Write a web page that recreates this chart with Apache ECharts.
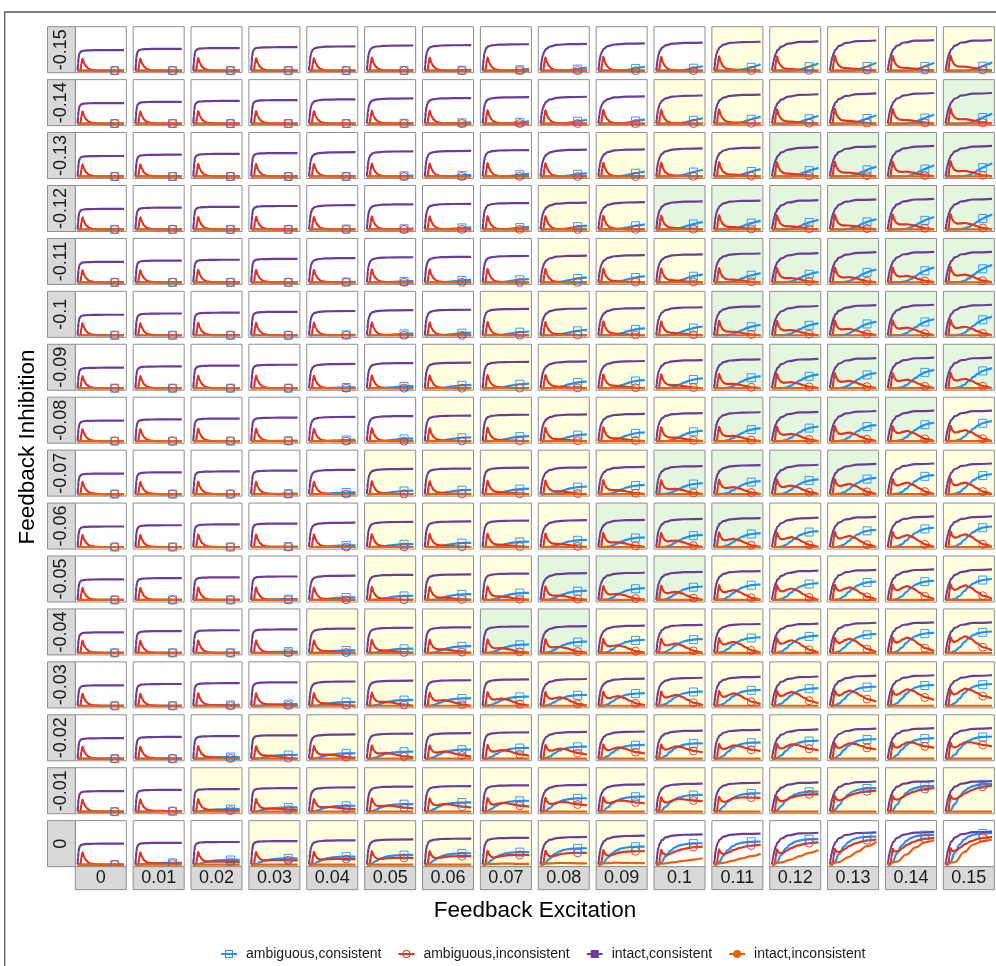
<!DOCTYPE html>
<html>
<head>
<meta charset="utf-8">
<script src="https://cdn.jsdelivr.net/npm/echarts@6.0.0/dist/echarts.min.js"></script>
<style>
  html, body { margin: 0; padding: 0; background: #ffffff; }
  #chart { width: 996px; height: 966px; }
</style>
</head>
<body>
<div id="chart"></div>
<script>
// ---- facet labels ----
const EXCITATION_LABELS = ['0', '0.01', '0.02', '0.03', '0.04', '0.05', '0.06', '0.07',
  '0.08', '0.09', '0.1', '0.11', '0.12', '0.13', '0.14', '0.15'];
const INHIBITION_LABELS = ['-0.15', '-0.14', '-0.13', '-0.12', '-0.11', '-0.1', '-0.09', '-0.08',
  '-0.07', '-0.06', '-0.05', '-0.04', '-0.03', '-0.02', '-0.01', '0'];
const SERIES_NAMES = ['ambiguous,consistent', 'ambiguous,inconsistent', 'intact,consistent', 'intact,inconsistent'];

// ---- panel background class (W white, Y yellow, G green); rows top (-0.15) to bottom (0) ----
const PANEL_CLASS = [
  'WWWWWWWWWWWYYYYY',
  'WWWWWWWWWWYYYYYG',
  'WWWWWWWWWYYYGGGG',
  'WWWWWWWWYYGGGGGG',
  'WWWWWWWWYYYGGGGG',
  'WWWWWWWYYYYGGGGG',
  'WWWWWWYYYYYGGGGG',
  'WWWWWWYYYYYGGGGY',
  'WWWWWYYYYYGGGGYY',
  'WWWWWYYYYGGGYYYY',
  'WWWWWYYYGGGYYYYY',
  'WWWWYYYGGYYYYYYY',
  'WWWWYYYYYYYYYYYY',
  'WWWYYYYYYYYYYYYY',
  'WWYYYYYYYYYYYYYY',
  'WWWYYYYYYYWWWWWW'
];

// ---- intact,consistent: plateau per excitation column, and the rise shapes ----
const PURPLE_LEVEL = [0.49, 0.52, 0.54, 0.56, 0.58, 0.60, 0.61, 0.63, 0.64, 0.65, 0.67, 0.69, 0.70, 0.72, 0.73, 0.73];
const PURPLE_LEVEL_NO_INHIBITION = [0.50, 0.52, 0.54, 0.56, 0.58, 0.60, 0.62, 0.64, 0.66, 0.69, 0.72, 0.74, 0.76, 0.77, 0.78, 0.79];
const PURPLE_TIMES = [0, 1, 2, 3.5, 5, 8, 12, 20, 35, 60, 100];
const PURPLE_SHAPES = [
  [0, 0.35, 0.60, 0.80, 0.88, 0.94, 0.97, 0.985, 0.995, 1, 1],
  [0, 0.24, 0.45, 0.63, 0.75, 0.86, 0.92, 0.96, 0.985, 0.995, 1],
  [0, 0.16, 0.32, 0.47, 0.58, 0.71, 0.81, 0.90, 0.96, 0.99, 1],
  [0, 0.11, 0.21, 0.33, 0.43, 0.57, 0.70, 0.82, 0.92, 0.98, 1]
];
const PURPLE_SHAPE_OF_COLUMN = [0, 0, 0, 0, 1, 1, 1, 1, 2, 2, 2, 2, 3, 3, 3, 3];

// ---- ambiguous,consistent: value at the last time point, and rise profile per inhibition row ----
const BLUE_END = [
  [0, 0, 0, 0, 0, 0.01, 0.02, 0.04, 0.07, 0.10, 0.11, 0.15, 0.18, 0.19, 0.19, 0.20],
  [0, 0, 0, 0, 0, 0.01, 0.03, 0.05, 0.09, 0.10, 0.13, 0.17, 0.19, 0.20, 0.22, 0.24],
  [0, 0, 0, 0, 0, 0.02, 0.04, 0.06, 0.08, 0.12, 0.16, 0.18, 0.21, 0.24, 0.27, 0.32],
  [0, 0, 0, 0, 0.01, 0.02, 0.05, 0.06, 0.09, 0.12, 0.18, 0.21, 0.23, 0.25, 0.30, 0.36],
  [0, 0, 0, 0, 0.01, 0.03, 0.06, 0.08, 0.12, 0.15, 0.19, 0.22, 0.25, 0.31, 0.36, 0.42],
  [0, 0, 0, 0, 0.01, 0.04, 0.06, 0.09, 0.13, 0.17, 0.21, 0.25, 0.29, 0.33, 0.39, 0.45],
  [0, 0, 0, 0, 0.02, 0.05, 0.08, 0.11, 0.16, 0.20, 0.24, 0.29, 0.33, 0.37, 0.44, 0.48],
  [0, 0, 0, 0.01, 0.03, 0.06, 0.09, 0.12, 0.16, 0.21, 0.25, 0.31, 0.35, 0.39, 0.44, 0.48],
  [0, 0, 0, 0.01, 0.04, 0.08, 0.10, 0.13, 0.18, 0.22, 0.26, 0.31, 0.35, 0.39, 0.46, 0.48],
  [0, 0, 0, 0.01, 0.04, 0.07, 0.10, 0.13, 0.17, 0.23, 0.29, 0.33, 0.38, 0.41, 0.46, 0.49],
  [0, 0, 0, 0.02, 0.06, 0.10, 0.14, 0.17, 0.22, 0.28, 0.32, 0.37, 0.40, 0.44, 0.46, 0.50],
  [0, 0, 0, 0.03, 0.06, 0.10, 0.16, 0.20, 0.27, 0.31, 0.33, 0.37, 0.41, 0.45, 0.48, 0.51],
  [0, 0, 0.02, 0.04, 0.09, 0.14, 0.18, 0.22, 0.26, 0.30, 0.34, 0.38, 0.42, 0.46, 0.50, 0.52],
  [0, 0, 0.04, 0.09, 0.13, 0.17, 0.22, 0.26, 0.29, 0.33, 0.37, 0.39, 0.43, 0.47, 0.49, 0.53],
  [0, 0.01, 0.06, 0.10, 0.14, 0.18, 0.22, 0.26, 0.32, 0.36, 0.40, 0.44, 0.48, 0.56, 0.61, 0.66],
  [0, 0.04, 0.11, 0.15, 0.19, 0.23, 0.27, 0.30, 0.39, 0.43, 0.51, 0.55, 0.61, 0.67, 0.71, 0.75]
];
const BLUE_TIMES = [0, 10, 20, 30, 40, 50, 60, 70, 80, 90, 100];
const BLUE_SHAPE = [
  [0, 0, 0, 0, 0, 0.03, 0.15, 0.32, 0.52, 0.76, 1],
  [0, 0, 0, 0, 0.01, 0.06, 0.20, 0.40, 0.60, 0.80, 1],
  [0, 0, 0, 0, 0.02, 0.10, 0.27, 0.47, 0.66, 0.84, 1],
  [0, 0, 0, 0.01, 0.05, 0.16, 0.34, 0.54, 0.72, 0.87, 1],
  [0, 0, 0, 0.02, 0.08, 0.22, 0.42, 0.61, 0.77, 0.90, 1],
  [0, 0, 0, 0.03, 0.12, 0.30, 0.50, 0.68, 0.82, 0.92, 1],
  [0, 0, 0.01, 0.05, 0.17, 0.36, 0.56, 0.73, 0.86, 0.94, 1],
  [0, 0, 0.01, 0.07, 0.22, 0.42, 0.62, 0.78, 0.89, 0.96, 1],
  [0, 0, 0.02, 0.10, 0.28, 0.50, 0.69, 0.83, 0.92, 0.97, 1],
  [0, 0, 0.03, 0.14, 0.34, 0.56, 0.74, 0.86, 0.94, 0.98, 1],
  [0, 0, 0.05, 0.19, 0.42, 0.63, 0.79, 0.89, 0.95, 0.98, 1],
  [0, 0.01, 0.08, 0.26, 0.50, 0.70, 0.84, 0.92, 0.96, 0.99, 1],
  [0, 0.02, 0.12, 0.34, 0.58, 0.76, 0.88, 0.94, 0.97, 0.99, 1],
  [0, 0.03, 0.18, 0.44, 0.66, 0.82, 0.91, 0.96, 0.98, 0.99, 1],
  [0, 0.05, 0.28, 0.55, 0.74, 0.86, 0.93, 0.97, 0.99, 1, 1],
  [0, 0.08, 0.38, 0.64, 0.80, 0.90, 0.95, 0.98, 0.99, 1, 1]
];

// ---- ambiguous,inconsistent: early transient, mid-course level and final level ----
const SPIKE_HEIGHT = [0.29, 0.29, 0.30, 0.30, 0.30, 0.31, 0.31, 0.32, 0.32, 0.33, 0.33, 0.34, 0.34, 0.35, 0.35, 0.36];
const RED_MID = [
  [0, 0, 0, 0, 0, 0, 0, 0, 0, 0, 0, 0.02, 0.03, 0.05, 0.06, 0.09],
  [0, 0, 0, 0, 0, 0, 0, 0, 0, 0, 0, 0.02, 0.04, 0.06, 0.08, 0.10],
  [0, 0, 0, 0, 0, 0, 0, 0, 0, 0, 0.02, 0.04, 0.06, 0.09, 0.11, 0.13],
  [0, 0, 0, 0, 0, 0, 0, 0, 0, 0.01, 0.03, 0.05, 0.07, 0.09, 0.12, 0.15],
  [0, 0, 0, 0, 0, 0, 0, 0, 0, 0.02, 0.04, 0.06, 0.10, 0.12, 0.15, 0.18],
  [0, 0, 0, 0, 0, 0, 0, 0, 0.02, 0.03, 0.05, 0.08, 0.12, 0.15, 0.18, 0.20],
  [0, 0, 0, 0, 0, 0, 0, 0.01, 0.03, 0.05, 0.07, 0.10, 0.14, 0.17, 0.20, 0.22],
  [0, 0, 0, 0, 0, 0, 0.01, 0.02, 0.04, 0.06, 0.08, 0.12, 0.17, 0.20, 0.24, 0.26],
  [0, 0, 0, 0, 0, 0.01, 0.02, 0.04, 0.06, 0.09, 0.12, 0.16, 0.20, 0.24, 0.27, 0.27],
  [0, 0, 0, 0, 0, 0.01, 0.03, 0.05, 0.07, 0.11, 0.15, 0.19, 0.23, 0.26, 0.28, 0.30],
  [0, 0, 0, 0, 0.01, 0.02, 0.05, 0.08, 0.10, 0.14, 0.19, 0.23, 0.27, 0.30, 0.33, 0.35],
  [0, 0, 0, 0.01, 0.03, 0.05, 0.08, 0.11, 0.14, 0.18, 0.22, 0.26, 0.30, 0.34, 0.37, 0.40],
  [0, 0, 0.01, 0.03, 0.05, 0.09, 0.13, 0.17, 0.20, 0.23, 0.26, 0.30, 0.34, 0.38, 0.42, 0.44],
  [0, 0.01, 0.03, 0.07, 0.10, 0.14, 0.18, 0.22, 0.26, 0.29, 0.32, 0.35, 0.38, 0.41, 0.44, 0.45],
  [0, 0.02, 0.04, 0.08, 0.12, 0.16, 0.20, 0.23, 0.26, 0.30, 0.34, 0.38, 0.42, 0.48, 0.52, 0.56],
  [0, 0.03, 0.08, 0.12, 0.15, 0.18, 0.22, 0.25, 0.30, 0.34, 0.40, 0.44, 0.50, 0.56, 0.60, 0.62]
];
const RED_END = [
  [0, 0, 0, 0, 0, 0, 0, 0, 0, 0, 0, 0, 0, 0, 0, 0],
  [0, 0, 0, 0, 0, 0, 0, 0, 0, 0, 0, 0, 0, 0, 0, 0],
  [0, 0, 0, 0, 0, 0, 0, 0, 0, 0, 0, 0, 0, 0, 0, 0],
  [0, 0, 0, 0, 0, 0, 0, 0, 0, 0, 0, 0, 0, 0, 0, 0],
  [0, 0, 0, 0, 0, 0, 0, 0, 0, 0, 0, 0, 0, 0, 0, 0],
  [0, 0, 0, 0, 0, 0, 0, 0, 0, 0, 0, 0, 0, 0, 0, 0],
  [0, 0, 0, 0, 0, 0, 0, 0, 0, 0, 0, 0, 0, 0, 0, 0],
  [0, 0, 0, 0, 0, 0, 0, 0, 0, 0, 0, 0, 0, 0, 0, 0],
  [0, 0, 0, 0, 0, 0, 0, 0, 0, 0, 0, 0, 0, 0, 0, 0],
  [0, 0, 0, 0, 0, 0, 0, 0, 0, 0, 0, 0, 0, 0, 0, 0],
  [0, 0, 0, 0, 0, 0, 0, 0, 0, 0, 0, 0, 0, 0.01, 0.02, 0.03],
  [0, 0, 0, 0, 0, 0, 0, 0, 0, 0, 0, 0, 0.01, 0.02, 0.04, 0.06],
  [0, 0, 0, 0, 0, 0, 0, 0, 0, 0.01, 0.02, 0.04, 0.06, 0.10, 0.14, 0.18],
  [0, 0, 0, 0, 0.02, 0.03, 0.05, 0.07, 0.10, 0.12, 0.15, 0.18, 0.20, 0.22, 0.26, 0.30],
  [0, 0.01, 0.02, 0.04, 0.06, 0.08, 0.10, 0.12, 0.15, 0.20, 0.25, 0.33, 0.42, 0.50, 0.56, 0.62],
  [0, 0.02, 0.06, 0.10, 0.13, 0.16, 0.20, 0.23, 0.28, 0.32, 0.43, 0.47, 0.53, 0.60, 0.64, 0.66]
];
const RED_TIMES = [0, 6, 8, 10.5, 14, 19, 25, 32, 42, 55, 68, 80, 100];
const SPIKE_SHAPE = [0, 0, 0.55, 1, 0.6, 0.3, 0.13, 0.05, 0.01, 0, 0, 0, 0];
const MID_SHAPE = [0, 0, 0, 0.05, 0.18, 0.38, 0.62, 0.85, 1, 0.82, 0.5, 0.22, 0];
const LATE_SHAPE = [0, 0, 0, 0.05, 0.18, 0.35, 0.5, 0.65, 0.8, 0.9, 0.95, 0.98, 1];

// ---- intact,inconsistent: only rises without feedback inhibition ----
const ORANGE_TIMES = [0, 20, 40, 60, 80, 100];
const ORANGE_NO_INHIBITION = [
  [0, 0, 0, 0, 0, 0], [0, 0, 0, 0, 0, 0], [0, 0, 0, 0, 0, 0], [0, 0, 0, 0, 0, 0],
  [0, 0, 0, 0, 0, 0], [0, 0, 0, 0, 0, 0], [0, 0, 0, 0, 0, 0],
  [0, 0.015, 0.02, 0.02, 0.015, 0.015],
  [0, 0.03, 0.04, 0.035, 0.03, 0.03],
  [0, 0.035, 0.045, 0.04, 0.035, 0.035],
  [0, 0.03, 0.06, 0.09, 0.12, 0.15],
  [0, 0.04, 0.09, 0.15, 0.20, 0.26],
  [0, 0.05, 0.12, 0.20, 0.28, 0.35],
  [0, 0.06, 0.18, 0.31, 0.44, 0.55],
  [0, 0.07, 0.24, 0.41, 0.53, 0.58],
  [0, 0.06, 0.30, 0.48, 0.56, 0.60]
];
const MARK_TIME = 80;

// ---- styling ----
const FONT = '"Liberation Sans", Arial, Helvetica, sans-serif';
const COLORS = ['#1E90FF', '#E3321E', '#6A3D9A', '#E8620C'];
const BG = { W: '#FFFFFF', Y: '#FFFFE0', G: '#E4F7DE' };
const X0 = 75.3, DX = 57.87, PW = 51;
const Y0 = 26.7, DY = 52.93, PH = 46;
const NROW = INHIBITION_LABELS.length, NCOL = EXCITATION_LABELS.length;

const grids = [], xAxes = [], yAxes = [], series = [], graphics = [];

function pt(t, v, symbol, color) {
  if (!symbol) return [t, v];
  return {
    value: [t, v], symbol: symbol, symbolSize: 8,
    itemStyle: { color: 'rgba(0,0,0,0)', borderColor: color, borderWidth: 1, opacity: 0.9 }
  };
}

function lineSeries(k, idx, data, smooth) {
  return {
    type: 'line', name: SERIES_NAMES[k], xAxisIndex: idx, yAxisIndex: idx,
    data: data, symbol: 'none', showSymbol: true,
    smooth: smooth, smoothMonotone: 'x',
    silent: true, animation: false,
    lineStyle: { color: COLORS[k], width: 2.2 },
    itemStyle: { color: COLORS[k] },
    emphasis: { disabled: true }
  };
}

for (let r = 0; r < NROW; r++) {
  for (let c = 0; c < NCOL; c++) {
    const idx = r * NCOL + c;
    grids.push({
      left: X0 + c * DX, top: Y0 + r * DY, width: PW, height: PH,
      show: true, backgroundColor: BG[PANEL_CLASS[r][c]],
      borderColor: '#8f8f8f', borderWidth: 1
    });
    xAxes.push({ gridIndex: idx, type: 'value', min: -5, max: 105, show: false });
    yAxes.push({ gridIndex: idx, type: 'value', min: -0.05, max: 1.05, show: false });

    // ambiguous,consistent
    const bEnd = BLUE_END[r][c];
    series.push(lineSeries(0, idx, BLUE_TIMES.map((t, k) =>
      pt(t, bEnd * BLUE_SHAPE[r][k], t === MARK_TIME ? 'rect' : null, COLORS[0])), 0.4));

    // ambiguous,inconsistent
    const s = SPIKE_HEIGHT[c], mid = RED_MID[r][c], end = RED_END[r][c];
    series.push(lineSeries(1, idx, RED_TIMES.map((t, k) =>
      pt(t, Math.max(0, s * SPIKE_SHAPE[k] + (mid - end) * MID_SHAPE[k] + end * LATE_SHAPE[k]),
        t === MARK_TIME ? 'circle' : null, COLORS[1])), 0.3));

    // intact,consistent
    const lvl = r === NROW - 1 ? PURPLE_LEVEL_NO_INHIBITION[c] : PURPLE_LEVEL[c];
    const shape = PURPLE_SHAPES[PURPLE_SHAPE_OF_COLUMN[c]];
    series.push(lineSeries(2, idx, PURPLE_TIMES.map((t, k) => [t, lvl * shape[k]]), 0.5));

    // intact,inconsistent
    const orange = r === NROW - 1 ? ORANGE_NO_INHIBITION[c] : [0, 0, 0, 0, 0, 0];
    series.push(lineSeries(3, idx, ORANGE_TIMES.map((t, k) => [t, orange[k]]), 0.4));
  }
}

// facet strips: inhibition on the left, excitation at the bottom
for (let r = 0; r < NROW; r++) {
  const top = Y0 + r * DY;
  graphics.push({ type: 'rect', silent: true, z: 10,
    shape: { x: 47.5, y: top, width: X0 - 47.5, height: PH },
    style: { fill: '#D9D9D9', stroke: '#8f8f8f', lineWidth: 1 } });
  graphics.push({ type: 'text', silent: true, z: 11,
    x: (47.5 + X0) / 2, y: top + PH / 2, rotation: Math.PI / 2,
    style: { text: INHIBITION_LABELS[r], font: '18px ' + FONT, fill: '#1A1A1A',
      align: 'center', verticalAlign: 'middle' } });
}
const stripTop = Y0 + (NROW - 1) * DY + PH;
for (let c = 0; c < NCOL; c++) {
  const left = X0 + c * DX;
  graphics.push({ type: 'rect', silent: true, z: 10,
    shape: { x: left, y: stripTop, width: PW, height: 23 },
    style: { fill: '#D9D9D9', stroke: '#8f8f8f', lineWidth: 1 } });
  graphics.push({ type: 'text', silent: true, z: 11,
    x: left + PW / 2, y: stripTop + 11.5,
    style: { text: EXCITATION_LABELS[c], font: '18px ' + FONT, fill: '#1A1A1A',
      align: 'center', verticalAlign: 'middle' } });
}
// axis titles
graphics.push({ type: 'text', silent: true, x: 535, y: 911,
  style: { text: 'Feedback Excitation', font: '22.5px ' + FONT, fill: '#000',
    align: 'center', verticalAlign: 'middle' } });
graphics.push({ type: 'text', silent: true, x: 28, y: 447, rotation: Math.PI / 2,
  style: { text: 'Feedback Inhibition', font: '22.5px ' + FONT, fill: '#000',
    align: 'center', verticalAlign: 'middle' } });
// outer frame
graphics.push({ type: 'rect', silent: true, z: 0,
  shape: { x: 4.7, y: 12, width: 1200, height: 1200 },
  style: { fill: 'rgba(0,0,0,0)', stroke: '#5a5a5a', lineWidth: 1.3 } });

// legend icons: line through an open / filled marker
const ICON_OPEN_SQUARE = 'path://M0 3H16V5H0Z M4 0H12V8H4Z M5 1V7H11V1Z';
const ICON_OPEN_CIRCLE = 'path://M0 3H16V5H0Z M12 4A4 4 0 1 1 4 4A4 4 0 1 1 12 4Z M11 4A3 3 0 1 0 5 4A3 3 0 1 0 11 4Z';
const ICON_FILLED_SQUARE = 'path://M0 3H16V5H0Z M4 0H12V8H4Z';
const ICON_FILLED_CIRCLE = 'path://M0 3H16V5H0Z M12 4A4 4 0 1 1 4 4A4 4 0 1 1 12 4Z';
const LEGEND_ICONS = [ICON_OPEN_SQUARE, ICON_OPEN_CIRCLE, ICON_FILLED_SQUARE, ICON_FILLED_CIRCLE];

const chart = echarts.init(document.getElementById('chart'), null, { renderer: 'canvas' });
chart.setOption({
  backgroundColor: '#ffffff',
  animation: false,
  textStyle: { fontFamily: FONT },
  grid: grids,
  xAxis: xAxes,
  yAxis: yAxes,
  series: series,
  legend: {
    left: 216, top: 942,
    itemWidth: 16, itemHeight: 8, itemGap: 17,
    selectedMode: false,
    textStyle: { fontSize: 14, color: '#1A1A1A', fontFamily: FONT, padding: [0, 0, 0, 4] },
    data: SERIES_NAMES.map((n, k) => ({
      name: n, icon: LEGEND_ICONS[k],
      itemStyle: { color: COLORS[k], borderWidth: 0 }
    }))
  },
  graphic: { elements: graphics }
});
</script>
</body>
</html>
